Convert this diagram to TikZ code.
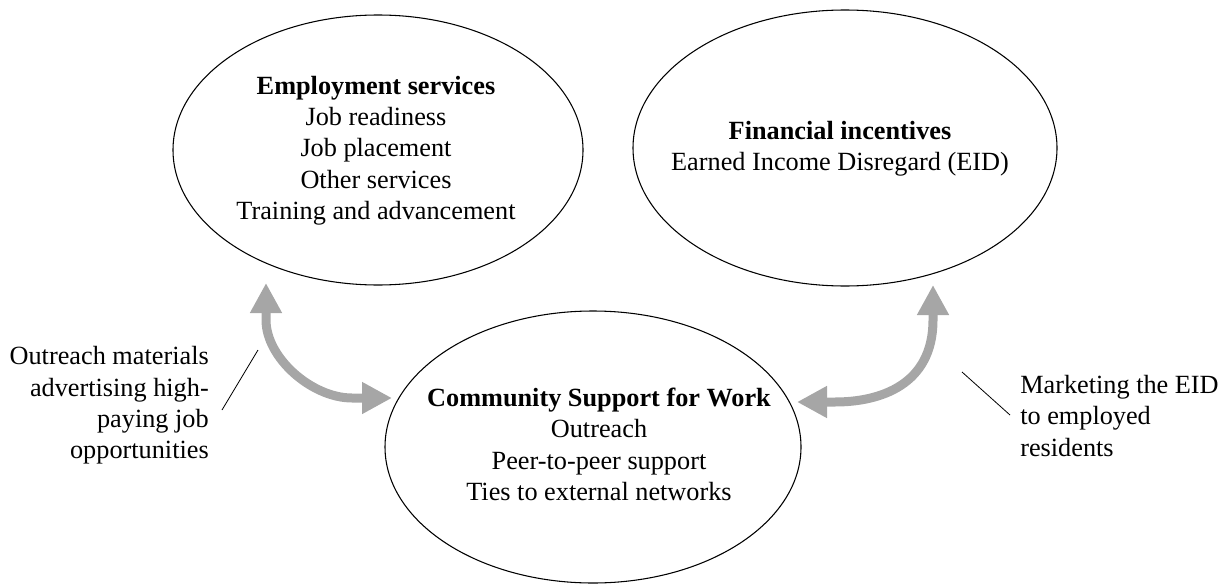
\documentclass[tikz,border=0pt]{standalone}
\usepackage{fontspec}
\setmainfont{Liberation Serif}
\usetikzlibrary{arrows.meta,shapes.geometric}
\definecolor{arrowgray}{RGB}{166,166,166}
\begin{document}
\begin{tikzpicture}[x=0.75pt,y=-0.75pt,
  oval/.style={draw=black, line width=0.8pt, ellipse, inner sep=0pt},
  txt/.style={font=\fontsize{19.7}{23.5}\selectfont, inner sep=0pt, align=center},
  lbl/.style={font=\fontsize{19.7}{23.5}\selectfont, inner sep=0pt},
  bigarrow/.style={draw=arrowgray, line width=6.75pt,
    {Triangle[width=22.5pt,length=22.5pt]}-{Triangle[width=22.5pt,length=22.5pt]}},
  leader/.style={draw=black, line width=0.6pt}]
\useasboundingbox (0,0) rectangle (1231,585);

% ellipses
\node[oval, minimum width=307.5pt, minimum height=202.5pt] (emp) at (378,150) {};
\node[oval, minimum width=318pt, minimum height=207pt] (fin) at (845,148) {};
\node[oval, minimum width=312pt, minimum height=204pt] (com) at (593,447) {};

% texts
\node[txt] (emptxt) at (376,150.5) {\textbf{Employment services}\\Job readiness\\Job placement\\Other services\\Training and advancement};
\node[txt] (fintxt) at (840,148.5) {\textbf{Financial incentives}\\Earned Income Disregard (EID)};
\node[txt] (comtxt) at (599,444.5) {\textbf{Community Support for Work}\\Outreach\\Peer-to-peer support\\Ties to external networks};

% side labels
\node[lbl, align=right, anchor=east] (leftlbl) at (209,405.5) {Outreach materials\\advertising high-\\paying job\\opportunities};
\node[lbl, align=left, anchor=west] (rightlbl) at (1020,416) {Marketing the EID\\to employed\\residents};

% arrow end points
\coordinate (la1) at (266,283);
\coordinate (la2) at (392,398);
\coordinate (ra1) at (933,285);
\coordinate (ra2) at (797,402);

\draw[bigarrow] (la1) -- (266,320) .. controls (266,358) and (312,398) .. (352,398) -- (la2);
\draw[bigarrow] (ra1) -- (933,320) .. controls (933,385) and (880,402) .. (835,402) -- (ra2);

% leader lines
\coordinate (l1a) at (222,410);
\coordinate (l1b) at (258,350);
\coordinate (l2a) at (962,372);
\coordinate (l2b) at (1010,415);
\draw[leader] (l1a) -- (l1b);
\draw[leader] (l2a) -- (l2b);
\end{tikzpicture}
\end{document}
